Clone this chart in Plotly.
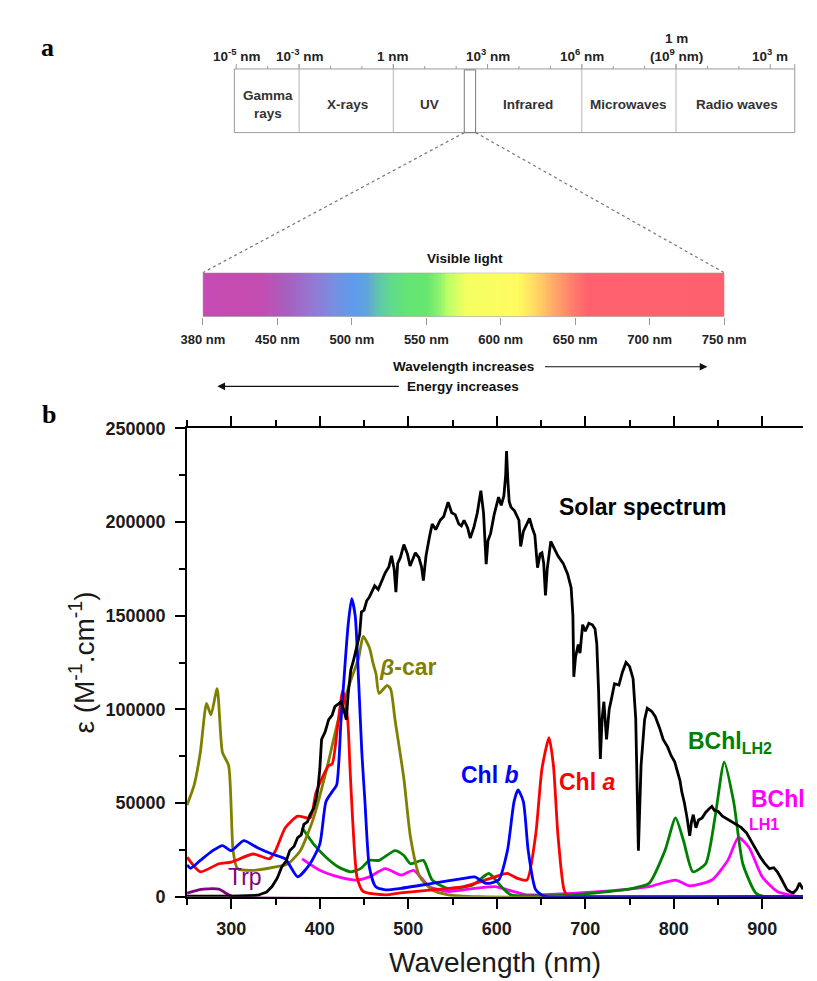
import numpy as np
import plotly.graph_objects as go

W, H = 817, 981
FONT = "Arial, Liberation Sans, sans-serif"
SERIF = "Times New Roman, Liberation Serif, serif"

# ---------------- panel a: EM spectrum schematic ----------------
em_tick_dec = [-5, -3, 0, 3, 6, 9, 12]
em_tick_text = ["10<sup>-5</sup> nm", "10<sup>-3</sup> nm", "1 nm", "10<sup>3</sup> nm",
                "10<sup>6</sup> nm", "1 m<br>(10<sup>9</sup> nm)", "10<sup>3</sup> m"]
em_minor_dec = [-4, -2, -1, 1, 2, 4, 5, 7, 8, 10, 11]
em_divider_dec = [-3, 0, 6, 9]
band_names = ["Gamma<br>rays", "X-rays", "UV", "Infrared", "Microwaves", "Radio waves"]
band_center_dec = [-4.0, -1.45, 1.15, 4.3, 7.5, 10.95]

vis_labels = ["380 nm", "450 nm", "500 nm", "550 nm", "600 nm", "650 nm", "700 nm", "750 nm"]
vis_stops = [0.0, 0.11, 0.165, 0.21, 0.255, 0.29, 0.315, 0.335, 0.358, 0.39, 0.43,
             0.455, 0.47, 0.505, 0.605, 0.638, 0.672, 0.71, 0.735, 1.0]
vis_colors = ["#C64BB2", "#C44BB0", "#A462BE", "#9478D2", "#7490E2", "#5F9BEC", "#60A4DA",
              "#60C2B0", "#60D890", "#63E474", "#66E670", "#94F26C", "#BCFF66", "#F4FF60",
              "#FFFB60", "#FFD862", "#FFAA68", "#FF7C6C", "#FF626E", "#FF606E"]

# ---------------- panel b: spectra ----------------
solar_nm = [250, 300, 330, 340, 346, 352, 357, 362, 366, 371, 375, 379, 382, 386, 389, 393, 396, 398,
            400, 402, 406, 410, 414, 417, 421, 424, 427, 430, 432, 435, 438, 440, 442, 445, 447, 450,
            453, 456, 459, 462, 466, 470, 474, 478, 481, 484, 486, 488, 491, 495, 499, 502, 505, 508,
            512, 515, 517, 520, 524, 527, 531, 536, 540, 545, 549, 553, 557, 560, 563, 567, 570, 574,
            578, 582, 585, 588, 590, 593, 597, 602, 605, 608, 610, 611, 612.5, 614, 616, 620, 625, 627,
            630, 634, 637, 640, 643, 646, 649, 651, 653, 655, 657, 661, 665, 669, 675, 680, 684, 686,
            687, 689, 692, 694, 697, 700, 704, 708, 711, 713, 715, 717, 719, 721, 724, 727, 730, 733,
            738, 742, 746, 750, 754, 757, 760, 763, 767, 770, 775, 779, 784, 788, 793, 797, 801, 804,
            807, 809, 812, 815, 818, 820, 822, 825, 828, 832, 836, 840, 843, 846, 850, 855, 861, 866,
            871, 876, 882, 887, 893, 898, 903, 908, 913, 917, 921, 925, 928, 932, 935, 939, 942, 946]
solar_val = [300, 300, 800, 2500, 5400, 10000, 15900, 19000, 24600, 27000, 31600, 33000, 38600, 40000,
             43800, 47000, 52500, 58000, 68200, 84000, 88000, 94500, 97000, 101500, 103000, 104100,
             100000, 94500, 108000, 121000, 126000, 130000, 134700, 140000, 152000, 153000, 158000,
             160000, 163000, 166000, 164000, 169000, 173000, 176000, 182000, 175000, 162600, 178000,
             181000, 188000, 183000, 176600, 180000, 183600, 181000, 176000, 168800, 182000, 192300,
             199000, 196000, 201000, 203000, 210700, 205000, 204000, 199000, 198000, 201000, 197000,
             191500, 197000, 205000, 216800, 205000, 177500, 190000, 194000, 204000, 213300, 209000,
             214000, 225000, 238000, 222000, 211000, 208000, 206000, 201000, 187000, 195000, 199000,
             202000, 197000, 193000, 175700, 183000, 183600, 178000, 160900, 175000, 189700, 186000,
             182000, 178000, 172300, 165000, 150000, 117400, 128000, 134700, 130000, 145200, 141700,
             146000, 145200, 143000, 135000, 110000, 73500, 95000, 104100, 84000, 100000, 106700,
             113700, 113000, 120000, 125100, 123000, 116400, 95000, 24600, 70000, 94500, 100600,
             99000, 96300, 90000, 84000, 80000, 75300, 72000, 67400, 62000, 56100, 50000, 42100,
             32500, 40000, 43800, 36800, 41000, 42100, 45000, 47000, 48200, 46000, 45600, 43000,
             41200, 40000, 38600, 37000, 34200, 30000, 24600, 21000, 17600, 15000, 15500, 13300,
             10000, 6000, 3700, 2500, 2000, 4000, 7300, 4000]

chlb_nm = [250, 254, 265, 279, 290, 300, 314, 329, 346, 361, 375, 389, 400, 407, 414, 419, 424, 428,
           432, 436, 440, 444, 447.5, 451, 456, 463, 474, 492, 527, 563, 575, 588, 602, 612, 619.5,
           624, 630, 635.5, 644, 655, 700, 946]
chlb_val = [17000, 15200, 19400, 24600, 27300, 24600, 29900, 26300, 22800, 20200, 10600, 17600, 28100,
            50800, 56100, 59600, 94500, 120700, 145000, 159100, 150000, 113700, 77000, 50800, 15900,
            5400, 3700, 4500, 7100, 9800, 10600, 7100, 8900, 24600, 50800, 57000, 50800, 24600, 3700,
            0, 0, 0]

chla_nm = [250, 265, 286, 300, 325, 343, 350, 361, 375, 389, 396, 410, 414, 421, 426, 431.5, 434,
           437, 442, 449, 474, 491, 527, 563, 598, 612, 623, 634, 644, 651, 659, 664, 669, 676, 681,
           946]
chla_val = [21100, 13300, 17600, 18500, 22800, 20200, 24600, 36800, 43000, 42100, 56100, 70000, 70900,
            94500, 110200, 94500, 70000, 42100, 10600, 2800, 1000, 2000, 3700, 5400, 10600, 12400,
            9800, 8900, 33400, 68200, 84900, 70000, 33400, 3700, 0, 0]

bcar_nm = [250, 258, 265, 272, 277, 284, 290, 297, 302, 307, 325, 350, 364, 378, 393, 407, 421, 435,
           444, 449, 456, 460, 463.5, 467, 476, 480, 485, 495, 502.5, 513, 527, 545, 580, 946]
bcar_val = [49000, 59600, 77000, 103200, 97100, 111100, 77000, 70000, 24600, 15000, 14100, 15900,
            17600, 24600, 42100, 66600, 94500, 115500, 127700, 139000, 133000, 125000, 119000, 108500,
            112800, 111000, 94500, 63000, 31600, 10600, 3700, 1000, 0, 0]

bchl2_nm = [380, 393, 407, 421, 435, 446, 456, 467, 485, 495, 502.5, 517, 527, 545, 573, 591, 605,
            616, 650, 683, 720, 754, 772, 790, 802, 811, 821.6, 836, 846.5, 857, 867.6, 878, 892.6,
            903, 946]
bchl2_val = [36800, 28100, 21100, 15900, 13300, 15000, 19400, 19400, 24600, 22000, 17600, 19400, 8900,
             4500, 6300, 12400, 5400, 1000, 500, 1000, 2500, 4500, 7100, 24600, 42100, 29900, 13300,
             17600, 42100, 71800, 50800, 17600, 2000, 0, 0]

bchl1_nm = [380, 400, 421, 442, 456, 474, 492, 506, 524, 545, 563, 598, 612, 634, 648, 719, 772, 802,
            818, 843, 861, 873, 885, 900, 917, 942, 946]
bchl1_val = [20200, 14100, 10600, 8900, 10600, 15000, 11500, 14100, 5400, 2800, 3700, 5400, 3700,
             1000, 1000, 2800, 5400, 8900, 5800, 8900, 19400, 31600, 26300, 10600, 2800, 0, 0]

trp_nm = [250, 258, 268, 286, 297, 304, 946]
trp_val = [1900, 3000, 4000, 4000, 1000, 0, 0]

x_ticks = [300, 400, 500, 600, 700, 800, 900]
y_ticks = [0, 50000, 100000, 150000, 200000, 250000]


def pxx(x):
    return x / W


def pxy(y):
    return 1 - y / H


fig = go.Figure()

series = [
    (trp_nm, trp_val, "#800080", True),
    (bchl1_nm, bchl1_val, "#FF00FF", True),
    (bchl2_nm, bchl2_val, "#008000", True),
    (bcar_nm, bcar_val, "#808000", True),
    (chla_nm, chla_val, "#FF0000", True),
    (chlb_nm, chlb_val, "#0000FF", True),
    (solar_nm, solar_val, "#000000", False),
]
for xs, ys, col, smooth in series:
    fig.add_trace(go.Scatter(
        x=xs, y=ys, mode="lines",
        line=dict(color=col, width=2.8, shape="spline" if smooth else "linear",
                  smoothing=0.6 if smooth else None),
        hoverinfo="skip", showlegend=False, xaxis="x", yaxis="y"))

# visible-light gradient bar
grad_x = np.linspace(0, 7, 351)
fig.add_trace(go.Heatmap(
    x=grad_x, y=[0.5], z=[np.linspace(0, 1, 351)],
    colorscale=[[s, c] for s, c in zip(vis_stops, vis_colors)],
    zmin=0, zmax=1, showscale=False, hoverinfo="skip", xaxis="x3", yaxis="y3"))

axis_common = dict(showgrid=False, zeroline=False, showline=True, linecolor="black", linewidth=2,
                   ticks="outside", tickcolor="black", tickwidth=2, ticklen=10,
                   tickfont=dict(family=FONT, size=18, color="#1a1a1a", weight="bold"))

fig.update_layout(
    width=W, height=H, margin=dict(l=0, r=0, t=0, b=0),
    paper_bgcolor="white", plot_bgcolor="rgba(0,0,0,0)",
    xaxis=dict(domain=[pxx(166), 1.0], range=[250, 946], tickvals=x_ticks, mirror="ticks",
               minor=dict(dtick=50, tick0=250, ticks="outside", ticklen=6, tickwidth=2, tickcolor="black"),
               ticklabelstandoff=5, anchor="y", **axis_common),
    yaxis=dict(domain=[pxy(897), pxy(419)], range=[0, 250000], tickvals=y_ticks, tickformat="d",
               minor=dict(dtick=25000, ticks="outside", ticklen=6, tickwidth=2, tickcolor="black"),
               ticklabelstandoff=6, anchor="x", **axis_common),
    xaxis2=dict(domain=[0, 1], range=[-384 / 33.2, (W - 384) / 33.2], visible=False, anchor="y2"),
    yaxis2=dict(domain=[0, 1], range=[0, 1], visible=False, anchor="x2"),
    xaxis3=dict(domain=[pxx(182.7), pxx(733.7)], range=[0, 7], tickvals=list(range(8)),
                ticktext=vis_labels, ticks="outside", ticklen=7, tickcolor="#999", tickwidth=1,
                showline=False, showgrid=False, zeroline=False, anchor="y3", ticklabelstandoff=4,
                tickfont=dict(family=FONT, size=13, color="#222", weight="bold")),
    yaxis3=dict(domain=[pxy(305), pxy(260)], range=[0, 1], visible=False, anchor="x3"),
)

shapes = []
gray = "#9a9a9a"
box_l, box_r = -5.06, 12.78
y_top, y_bot = 52, 117
# spectrum box
shapes.append(dict(type="rect", xref="x2", yref="paper", x0=box_l, x1=box_r,
                   y0=pxy(y_bot), y1=pxy(y_top), line=dict(color=gray, width=1)))
for d in em_divider_dec:
    shapes.append(dict(type="line", xref="x2", yref="paper", x0=d, x1=d,
                       y0=pxy(y_bot), y1=pxy(y_top - 5), line=dict(color="#b5b5b5", width=1)))
for d in em_tick_dec:
    shapes.append(dict(type="line", xref="x2", yref="paper", x0=d, x1=d,
                       y0=pxy(y_top), y1=pxy(y_top - 5), line=dict(color=gray, width=1)))
for d in em_minor_dec:
    shapes.append(dict(type="line", xref="x2", yref="paper", x0=d, x1=d,
                       y0=pxy(y_top), y1=pxy(y_top - 3), line=dict(color=gray, width=1)))
shapes.append(dict(type="line", xref="x2", yref="paper", x0=box_r, x1=box_r,
                   y0=pxy(y_top), y1=pxy(y_top - 5), line=dict(color=gray, width=1)))
# narrow visible window
shapes.append(dict(type="rect", xref="paper", yref="paper", x0=pxx(459), x1=pxx(471),
                   y0=pxy(y_bot), y1=pxy(y_top + 1), line=dict(color="#777", width=1)))
# zoom lines
shapes.append(dict(type="line", xref="paper", yref="paper", x0=pxx(459), y0=pxy(y_bot),
                   x1=pxx(182.7), y1=pxy(260), line=dict(color="#777", width=1.2, dash="dot")))
shapes.append(dict(type="line", xref="paper", yref="paper", x0=pxx(471), y0=pxy(y_bot),
                   x1=pxx(733.7), y1=pxy(260), line=dict(color="#777", width=1.2, dash="dot")))
# visible bar border
shapes.append(dict(type="rect", xref="x3", yref="y3", x0=0, x1=7, y0=0, y1=1,
                   line=dict(color="#999", width=1)))
fig.update_layout(shapes=shapes)

ann = []
def add_text(x, y, text, size, color="#111", bold=True, xanchor="center", yanchor="middle",
             family=FONT, xref="paper", angle=0):
    ann.append(dict(x=x if xref != "paper" else pxx(x), y=pxy(y), xref=xref, yref="paper",
                    text=text, showarrow=False, xanchor=xanchor, yanchor=yanchor, textangle=angle,
                    font=dict(family=family, size=size, color=color,
                              weight="bold" if bold else "normal")))

for d, t in zip(em_tick_dec, em_tick_text):
    ann.append(dict(x=d, y=pxy(y_top - 3), xref="x2", yref="paper", text=t, showarrow=False,
                    xanchor="center", yanchor="bottom",
                    font=dict(family=FONT, size=13.5, color="#222", weight="bold")))
for d, t in zip(band_center_dec, band_names):
    ann.append(dict(x=d, y=pxy(88), xref="x2", yref="paper", text=t, showarrow=False,
                    xanchor="center", yanchor="middle",
                    font=dict(family=FONT, size=13.5, color="#333", weight="bold")))

add_text(18, 30, "a", 26, "#000", True, family=SERIF)
add_text(20, 405, "b", 26, "#000", True, family=SERIF)
add_text(460, 245, "Visible light", 13.5, "#111", True)
add_text(458, 356, "Wavelength increases", 13.5, "#111", True)
add_text(458, 376, "Energy increases", 13.5, "#111", True)

# arrows
ann.append(dict(x=pxx(716), y=pxy(356), xref="paper", yref="paper", ax=-164, ay=0,
                axref="pixel", ayref="pixel", text="", showarrow=True, arrowhead=2,
                arrowsize=1.4, arrowwidth=1.1, arrowcolor="#111"))
ann.append(dict(x=pxx(198), y=pxy(376), xref="paper", yref="paper", ax=183, ay=0,
                axref="pixel", ayref="pixel", text="", showarrow=True, arrowhead=2,
                arrowsize=1.4, arrowwidth=1.1, arrowcolor="#111"))

# panel b labels
add_text(647.5, 499, "Solar spectrum", 23, "#000", True)
add_text(400, 663, "<i>β</i>-car", 23, "#808000", True)
add_text(486.5, 773, "Chl <i>b</i>", 23, "#0000FF", True)
add_text(589, 780, "Chl <i>a</i>", 23, "#FF0000", True)
add_text(693, 740, "BChl<sub>LH2</sub>", 23, "#008000", True, xanchor="left")
add_text(760, 797, "BChl", 23, "#FF00FF", True, xanchor="left")
add_text(758, 823, "LH1", 16, "#FF00FF", True, xanchor="left")
add_text(207, 877, "Trp", 23, "#800080", False, xanchor="left")

add_text(491, 964, "Wavelength (nm)", 28, "#1a1a1a", False)
add_text(55, 658, "ε (M<sup>-1</sup>.cm<sup>-1</sup>)", 28, "#1a1a1a", False, angle=-90)

fig.update_layout(annotations=ann)
fig.write_html("out.html")
